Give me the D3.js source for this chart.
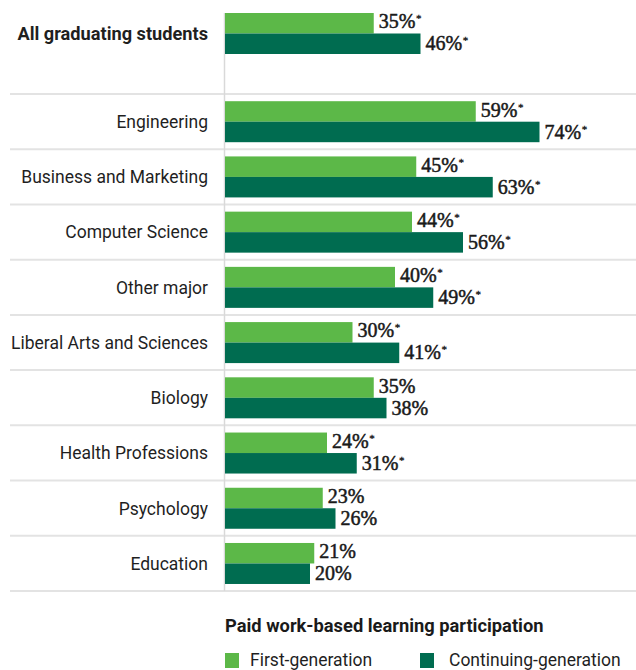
<!DOCTYPE html>
<html>
<head>
<meta charset="utf-8">
<script src="https://cdn.jsdelivr.net/npm/d3@7"></script>
<style>
  html, body { margin: 0; padding: 0; background: #ffffff; }
  svg { display: block; }
  .value { font-family: "Liberation Serif", "DejaVu Serif", serif; }
</style>
</head>
<body>
<svg id="chart" width="636" height="670"></svg>
<script>
// Overall rate across every graduating student
const overallLabel = "All graduating students";
const overallFirstGen = 35;
const overallContGen = 46;
const overallSignificant = true;

// Rates by major
const majors = [
  "Engineering",
  "Business and Marketing",
  "Computer Science",
  "Other major",
  "Liberal Arts and Sciences",
  "Biology",
  "Health Professions",
  "Psychology",
  "Education"
];
const firstGenValues = [59, 45, 44, 40, 30, 35, 24, 23, 21];
const contGenValues  = [74, 63, 56, 49, 41, 38, 31, 26, 20];
// Statistically significant gap between the two groups
const significant = [true, true, true, true, true, false, true, false, false];

const seriesKeys = ["first", "cont"];
const seriesNames = ["First-generation", "Continuing-generation"];
const legendTitle = "Paid work-based learning participation";

const colors = { first: "#5cb848", cont: "#006c50" };
const sansFont = "Roboto, 'Noto Sans', sans-serif";

const svg = d3.select("#chart");

const x = d3.scaleLinear().domain([0, 100]).range([225, 650]);

// One band per major row
const y = d3.scaleBand().domain(majors).range([94, 591]).paddingInner(0);
// Two bars within each row
const inner = d3.scaleBand().domain(seriesKeys).range([7.2, 48.2]);
const overallTop = 5.8;
// Small vertical nudge of each series' value label
const labelNudge = { first: -1.5, cont: 0 };

const rows = [
  { label: overallLabel, top: overallTop, first: overallFirstGen, cont: overallContGen, sig: overallSignificant, bold: true }
].concat(majors.map((m, i) => ({
  label: m, top: y(m), first: firstGenValues[i], cont: contGenValues[i], sig: significant[i], bold: false
})));

// Row separators
const gridYs = majors.map(m => y(m)).concat([y(majors[majors.length - 1]) + y.step()]);
svg.append("g")
  .selectAll("line")
  .data(gridYs)
  .join("line")
  .attr("x1", 10).attr("x2", 636)
  .attr("y1", d => d).attr("y2", d => d)
  .attr("stroke", "#e3e3e3")
  .attr("stroke-width", 2);

// Baseline of the bars
svg.append("line")
  .attr("x1", 224.5).attr("x2", 224.5)
  .attr("y1", 13).attr("y2", gridYs[gridYs.length - 1])
  .attr("stroke", "#d9d9d9")
  .attr("stroke-width", 1.5);

const rowG = svg.append("g")
  .selectAll("g")
  .data(rows)
  .join("g")
  .attr("transform", d => `translate(0,${d.top})`);

// Category labels
rowG.append("text")
  .attr("x", 208)
  .attr("y", inner.range()[0] + (inner.range()[1] - inner.range()[0]) / 2)
  .attr("dy", "0.36em")
  .attr("text-anchor", "end")
  .attr("font-family", sansFont)
  .attr("font-size", d => d.bold ? 18.2 : 17.5)
  .attr("font-weight", d => d.bold ? 700 : 400)
  .attr("fill", "#1f1f1f")
  .text(d => d.label);

// Bars
rowG.selectAll("rect")
  .data(d => seriesKeys.map(k => ({ key: k, value: d[k] })))
  .join("rect")
  .attr("x", x(0))
  .attr("y", d => inner(d.key))
  .attr("width", d => x(d.value) - x(0))
  .attr("height", inner.bandwidth())
  .attr("fill", d => colors[d.key]);

// Value labels
const valueText = rowG.selectAll("text.value")
  .data(d => seriesKeys.map(k => ({ key: k, value: d[k], sig: d.sig })))
  .join("text")
  .attr("class", "value")
  .attr("x", d => x(d.value) + 5)
  .attr("y", d => inner(d.key) + inner.bandwidth() / 2 + labelNudge[d.key])
  .attr("dy", "0.33em")
  .attr("font-size", 20)
  .attr("font-weight", 400)
  .attr("fill", "#1a1a1a")
  .attr("stroke", "#1a1a1a")
  .attr("stroke-width", 0.5);

valueText.append("tspan").text(d => d.value + "%");
valueText.filter(d => d.sig)
  .append("tspan")
  .attr("font-size", 11)
  .attr("stroke-width", 0.3)
  .attr("dx", 0.5)
  .attr("dy", -6)
  .text("*");

// Legend
const legend = svg.append("g").attr("transform", "translate(225,0)");
legend.append("text")
  .attr("x", 0).attr("y", 632)
  .attr("font-family", sansFont)
  .attr("font-size", 18.3)
  .attr("font-weight", 700)
  .attr("fill", "#1a1a1a")
  .text(legendTitle);

const legendX = [0, 195];
const legendTextDx = [25, 29];
const items = legend.selectAll("g.item")
  .data(seriesKeys)
  .join("g")
  .attr("class", "item")
  .attr("transform", (d, i) => `translate(${legendX[i]},653)`);
items.append("rect")
  .attr("width", 14).attr("height", 15)
  .attr("fill", d => colors[d]);
items.append("text")
  .attr("x", (d, i) => legendTextDx[i]).attr("y", 13)
  .attr("font-family", sansFont)
  .attr("font-size", 17.5)
  .attr("fill", "#1f1f1f")
  .text((d, i) => seriesNames[i]);
</script>
</body>
</html>
